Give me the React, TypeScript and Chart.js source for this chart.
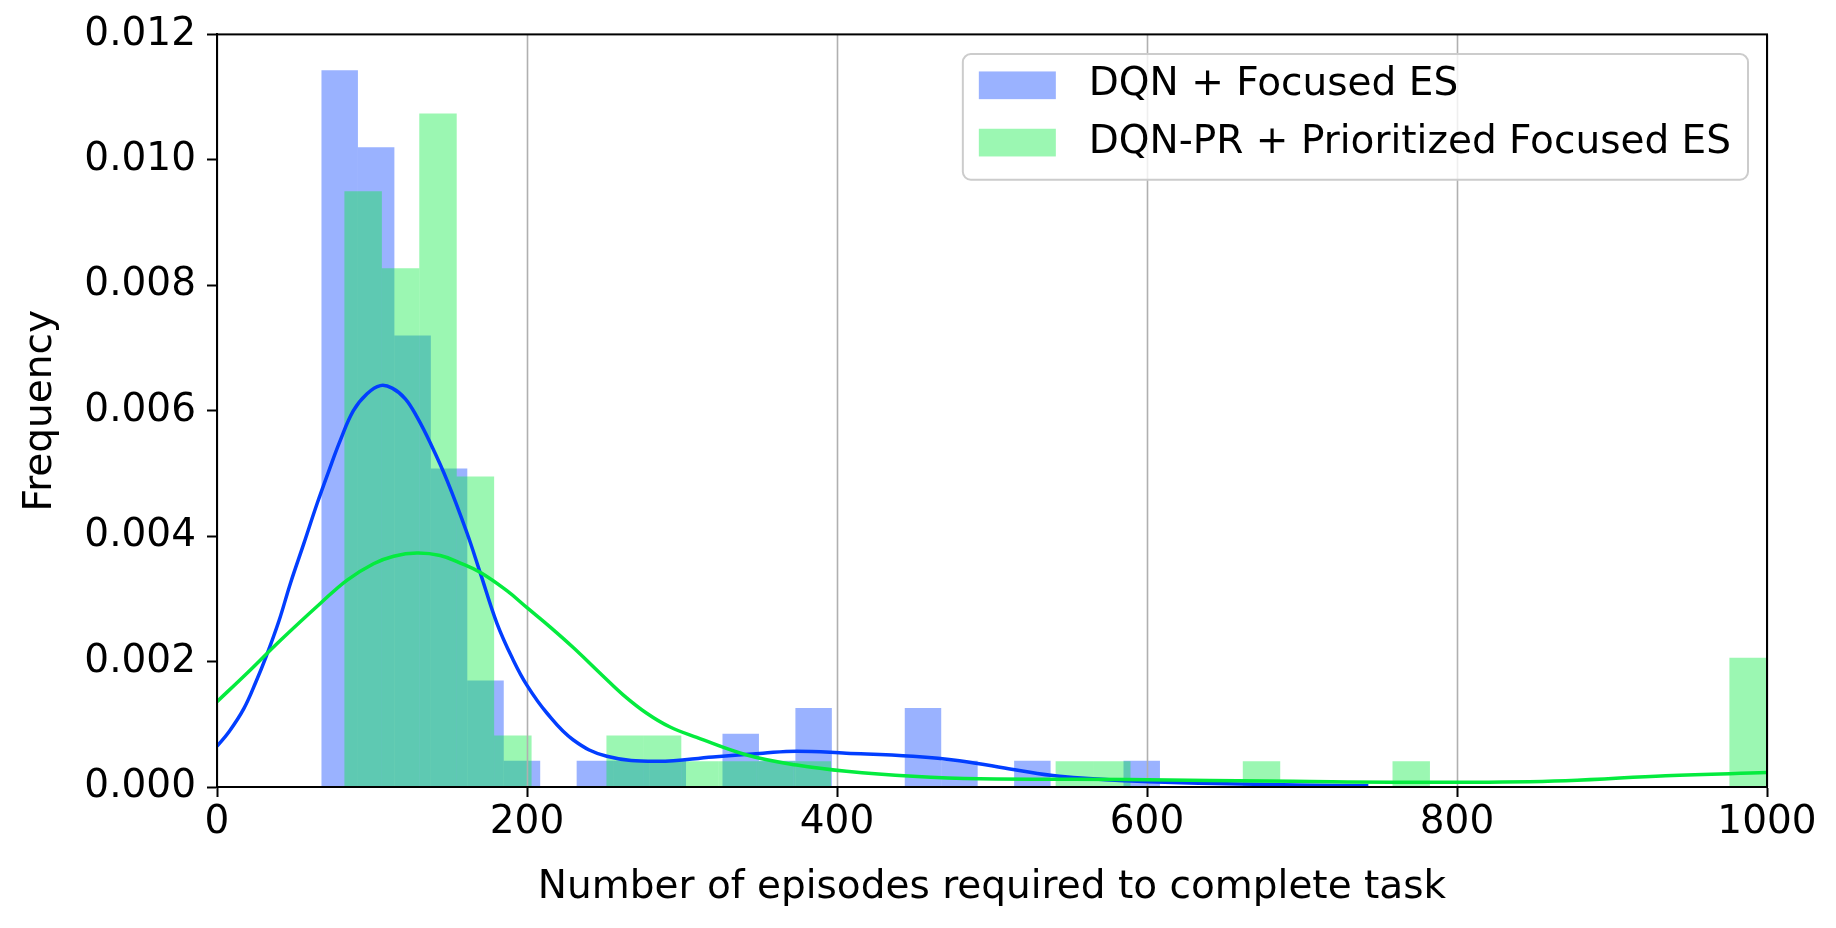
import { useEffect, useRef } from "react";
import { Chart, registerables } from "chart.js";

Chart.register(...registerables);

// --- data ---
const seriesLabels = ["DQN + Focused ES", "DQN-PR + Prioritized Focused ES"];

const xTicks = [0, 200, 400, 600, 800, 1000];
const yTickStep = 0.002;
const yMax = 0.012;

// histogram of DQN + Focused ES (23 equal bins)
const blueBinStart = 67.4;
const blueBinWidth = 23.52;
const blueDensity = [
  0.01143, 0.0102, 0.0072, 0.00508, 0.0017, 0.00042, 0, 0.00042, 0.00042,
  0.00042, 0, 0.00085, 0.00042, 0.00126, 0, 0, 0.00126, 0.00042, 0, 0.00042,
  0, 0, 0.00042
];

// histogram of DQN-PR + Prioritized Focused ES (38 equal bins)
const greenBinStart = 82.2;
const greenBinWidth = 24.15;
const greenDensity = [
  0.0095, 0.00827, 0.01074, 0.00495, 0.00082, 0, 0, 0.00082, 0.00082, 0.00041,
  0.00041, 0.00041, 0.00041, 0, 0, 0, 0, 0, 0, 0.00041, 0.00041, 0, 0, 0,
  0.00041, 0, 0, 0, 0.00041, 0, 0, 0, 0, 0, 0, 0, 0, 0.00206
];

// density curves
const blueKdeX = [
  0, 8, 17.3, 25, 32, 40, 47.4, 56, 64.6, 72, 79.6, 88, 96.8, 105.4, 113,
  121.5, 129, 137.7, 148.4, 161.3, 169.9, 180.6, 191, 200, 212.8, 229.9, 251.5,
  283.7, 320, 352.3, 374, 406, 449, 479, 514.7, 543.6, 586.6, 651, 742.8
];
const blueKdeY = [
  0.00065, 0.00089, 0.00125, 0.00167, 0.0021, 0.00265, 0.00325, 0.00388,
  0.00452, 0.00503, 0.00553, 0.006, 0.00627, 0.0064, 0.00636, 0.00619, 0.0059,
  0.00548, 0.00489, 0.00405, 0.00341, 0.00261, 0.00203, 0.00162, 0.00118,
  0.00075, 0.00049, 0.00041, 0.00048, 0.00054, 0.00057, 0.00054, 0.00049,
  0.00042, 0.000275, 0.00017, 0.0001, 0.00005, 0.00002
];
const greenKdeX = [
  0, 20, 41, 66.8, 84, 101, 114, 129, 144, 157, 170, 187, 200, 215, 230, 249,
  262, 277, 292, 309.5, 341.8, 374, 406, 449, 492, 587, 694, 801, 870, 934.6,
  1000
];
const greenKdeY = [
  0.00136, 0.00183, 0.00234, 0.00293, 0.0033, 0.00356, 0.00368, 0.00373,
  0.00369, 0.00357, 0.00342, 0.00313, 0.00286, 0.00255, 0.00222, 0.00177,
  0.00147, 0.00118, 0.00096, 0.00079, 0.00051, 0.00035, 0.00025, 0.00017,
  0.00013, 0.00012, 0.00009, 0.000075, 0.0001, 0.00018, 0.00023
];

const blueBar = "rgba(2, 62, 255, 0.4)";
const greenBar = "rgba(4, 235, 62, 0.4)";
const blueLine = "#023eff";
const greenLine = "#04eb3e";
const FONT = "'DejaVu Sans', 'Liberation Sans', sans-serif";
const FONT_SIZE = 39;

// vertical grid drawn between the bars and the curves
const midGridPlugin = {
  id: "midGrid",
  beforeDatasetDraw(chart: any, args: any) {
    if (args.index !== 2) return;
    const { ctx, chartArea } = chart;
    const xs = chart.scales.x;
    ctx.save();
    ctx.strokeStyle = "#b0b0b0";
    ctx.lineWidth = 1.6;
    for (const t of xTicks) {
      const px = Math.round(xs.getPixelForValue(t)) + 0.5;
      ctx.beginPath();
      ctx.moveTo(px, chartArea.top);
      ctx.lineTo(px, chartArea.bottom);
      ctx.stroke();
    }
    ctx.restore();
  }
};

const frameAndLegendPlugin = {
  id: "frameAndLegend",
  afterDatasetsDraw(chart: any) {
    const { ctx, chartArea } = chart;
    ctx.save();
    ctx.strokeStyle = "#000";
    ctx.lineWidth = 2;
    ctx.strokeRect(
      chartArea.left,
      chartArea.top,
      chartArea.right - chartArea.left,
      chartArea.bottom - chartArea.top
    );

    ctx.font = `${FONT_SIZE}px ${FONT}`;
    const textW = Math.max(...seriesLabels.map((l) => ctx.measureText(l).width));
    const padL = 16;
    const sw = 77;
    const gap = 33;
    const padR = 17;
    const w = padL + sw + gap + textW + padR;
    const h = 125.6;
    const right = chartArea.right - 19;
    const top = chartArea.top + 19.7;
    const left = right - w;

    ctx.beginPath();
    ctx.roundRect(left, top, w, h, 8);
    ctx.fillStyle = "rgba(255,255,255,0.8)";
    ctx.fill();
    ctx.strokeStyle = "#cccccc";
    ctx.lineWidth = 2;
    ctx.stroke();

    const colors = [blueBar, greenBar];
    const rows = [top + 31.2, top + 88.5];
    ctx.textBaseline = "middle";
    ctx.textAlign = "left";
    seriesLabels.forEach((label, i) => {
      ctx.fillStyle = colors[i];
      ctx.fillRect(left + padL, rows[i] - 13.85, sw, 27.7);
      ctx.fillStyle = "#000";
      ctx.fillText(label, left + padL + sw + gap, rows[i]);
    });
    ctx.restore();
  }
};

export default function App() {
  const canvasRef = useRef<HTMLCanvasElement | null>(null);

  useEffect(() => {
    if (!canvasRef.current) return;
    Chart.defaults.font.family = FONT;
    Chart.defaults.font.size = FONT_SIZE;
    Chart.defaults.color = "#000";

    const blueBars = blueDensity.map((y, i) => ({
      x: blueBinStart + blueBinWidth * (i + 0.5),
      y
    }));
    const greenBars = greenDensity.map((y, i) => ({
      x: greenBinStart + greenBinWidth * (i + 0.5),
      y
    }));

    const barCommon = {
      type: "bar",
      borderWidth: 0,
      barPercentage: 1,
      categoryPercentage: 1,
      inflateAmount: 0,
      grouped: false
    };
    const lineCommon = {
      type: "line",
      xAxisID: "x",
      borderWidth: 3.5,
      pointRadius: 0,
      fill: false,
      tension: 0.4
    };

    const chart = new Chart(canvasRef.current, {
      type: "bar",
      data: {
        datasets: [
          {
            ...barCommon,
            label: seriesLabels[0],
            data: blueBars,
            xAxisID: "x",
            backgroundColor: blueBar,
            order: 3
          },
          {
            ...barCommon,
            label: seriesLabels[1],
            data: greenBars,
            xAxisID: "xg",
            backgroundColor: greenBar,
            order: 2
          },
          {
            ...lineCommon,
            label: seriesLabels[0] + " density",
            data: blueKdeX.map((x, i) => ({ x, y: blueKdeY[i] })),
            borderColor: blueLine,
            order: 1
          },
          {
            ...lineCommon,
            label: seriesLabels[1] + " density",
            data: greenKdeX.map((x, i) => ({ x, y: greenKdeY[i] })),
            borderColor: greenLine,
            order: 0
          }
        ]
      } as any,
      options: {
        animation: false,
        responsive: true,
        maintainAspectRatio: false,
        layout: { padding: { left: 0, top: 33, right: 69, bottom: 0 } },
        plugins: {
          legend: { display: false },
          tooltip: { enabled: false }
        },
        scales: {
          x: {
            type: "linear",
            min: 0,
            max: 1000,
            offset: false,
            afterBuildTicks: (s: any) => {
              s.ticks = xTicks.map((v) => ({ value: v }));
            },
            ticks: {
              padding: 2,
              maxRotation: 0,
              autoSkip: false,
              font: { size: FONT_SIZE, lineHeight: 1.2 },
              callback: (v: any) => String(v)
            },
            grid: {
              offset: false,
              drawOnChartArea: false,
              drawTicks: true,
              tickLength: 10,
              tickColor: "#000",
              tickWidth: 2
            },
            border: { display: true, color: "#000", width: 2 },
            title: {
              display: true,
              text: "Number of episodes required to complete task",
              font: { size: FONT_SIZE, lineHeight: 1.2 },
              padding: { top: 0, bottom: 17 }
            },
            afterFit: (s: any) => {
              s.height = 141;
            }
          },
          xg: {
            type: "linear",
            min: 0,
            max: 1000,
            offset: false,
            display: false,
            grid: { offset: false }
          },
          y: {
            type: "linear",
            min: 0,
            max: yMax,
            ticks: {
              stepSize: yTickStep,
              padding: 11,
              font: { size: FONT_SIZE, lineHeight: 1.2 },
              callback: (v: any) => Number(v).toFixed(3)
            },
            grid: {
              drawOnChartArea: false,
              drawTicks: true,
              tickLength: 10,
              tickColor: "#000",
              tickWidth: 2
            },
            border: { display: true, color: "#000", width: 2 },
            title: {
              display: true,
              text: "Frequency",
              font: { size: FONT_SIZE, lineHeight: 1.2 },
              padding: { top: 17, bottom: 0 }
            },
            afterFit: (s: any) => {
              s.width = 217;
            }
          }
        }
      } as any,
      plugins: [midGridPlugin, frameAndLegendPlugin]
    });

    return () => chart.destroy();
  }, []);

  return (
    <div
      style={{
        position: "fixed",
        left: 0,
        top: 0,
        width: 1836,
        height: 928,
        background: "#fff"
      }}
    >
      <canvas ref={canvasRef} />
    </div>
  );
}
